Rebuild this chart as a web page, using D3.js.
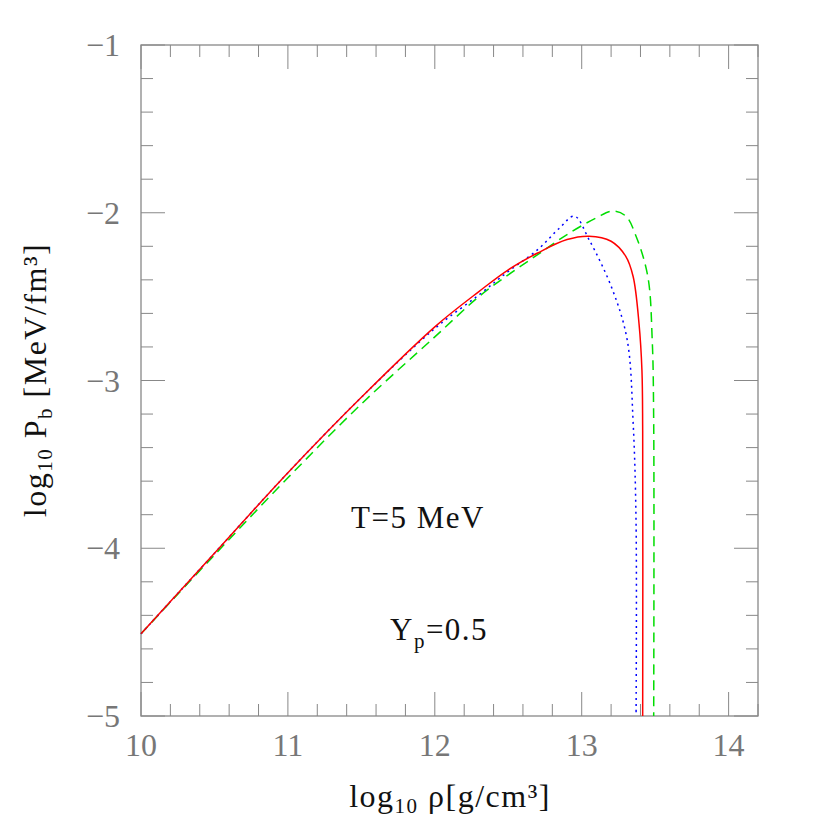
<!DOCTYPE html>
<html><head><meta charset="utf-8">
<script src="https://cdn.jsdelivr.net/npm/d3@7"></script>
<style>body{margin:0;background:#fff}</style></head>
<body><svg id="c" width="830" height="830"></svg>
<script>
const xTicks=[10,11,12,13,14];
const yTicks=[-1,-2,-3,-4,-5];
const redX=[10,10.5,11,11.5,12,12.3,12.5,12.7,12.9,13.05,13.2,13.3,13.35,13.39,13.41,13.415,13.415];
const redY=[-4.51,-4.03,-3.55,-3.1,-2.68,-2.47,-2.34,-2.24,-2.16,-2.14,-2.17,-2.26,-2.38,-2.66,-2.94,-3.3,-5];
const blueX=[10,10.5,11,11.5,12,12.3,12.5,12.7,12.85,12.95,13.05,13.21,13.31,13.35,13.37,13.37];
const blueY=[-4.51,-4.03,-3.55,-3.1,-2.69,-2.49,-2.35,-2.22,-2.09,-2.02,-2.16,-2.46,-2.76,-3.25,-3.85,-5];
const greenX=[10,10.5,11,11.5,12,12.3,12.5,12.7,12.9,13.1,13.21,13.3,13.37,13.45,13.48,13.49,13.49];
const greenY=[-4.51,-4.04,-3.58,-3.14,-2.74,-2.5,-2.37,-2.25,-2.13,-2.03,-1.99,-2.02,-2.14,-2.38,-2.76,-3.25,-5];
const svg=d3.select("#c");
const x=d3.scaleLinear().domain([10,14.2]).range([141,758]);
const y=d3.scaleLinear().domain([-5,-1]).range([716,45]);
const g=svg.append("g");
g.append("rect").attr("x",141).attr("y",45).attr("width",617).attr("height",671).attr("fill","none").attr("stroke","#888").attr("stroke-width",1.3);
const gray="#888";
for(let v=10;v<=14.2001;v+=0.2){const maj=Math.abs(v-Math.round(v))<1e-6;const L=maj?24:12;
 g.append("line").attr("x1",x(v)).attr("x2",x(v)).attr("y1",716).attr("y2",716-L).attr("stroke",gray);
 g.append("line").attr("x1",x(v)).attr("x2",x(v)).attr("y1",45).attr("y2",45+L).attr("stroke",gray);}
for(let v=-5;v<=-0.999;v+=0.2){const maj=Math.abs(v-Math.round(v))<1e-6;const L=maj?24:12;
 g.append("line").attr("y1",y(v)).attr("y2",y(v)).attr("x1",141).attr("x2",141+L).attr("stroke",gray);
 g.append("line").attr("y1",y(v)).attr("y2",y(v)).attr("x1",758).attr("x2",758-L).attr("stroke",gray);}
const ff="Liberation Serif, DejaVu Serif, serif";
xTicks.forEach(t=>g.append("text").attr("x",x(t)).attr("y",756).attr("text-anchor","middle").attr("font-family",ff).attr("font-size",32).attr("fill","#777").text(t));
yTicks.forEach(t=>g.append("text").attr("x",120).attr("y",y(t)+11).attr("text-anchor","end").attr("font-family",ff).attr("font-size",32).attr("fill","#777").text("\u2212"+Math.abs(t)));
const line=d3.line().x(d=>x(d[0])).y(d=>y(d[1])).curve(d3.curveCatmullRom.alpha(0.5));
function draw(X,Y,c,da){g.append("path").attr("d",line(X.map((v,i)=>[v,Y[i]]))).attr("fill","none").attr("stroke",c).attr("stroke-width",1.5).attr("stroke-dasharray",da);}
draw(greenX,greenY,"#00dd00","10,6");
draw(blueX,blueY,"#0000ff","2,4");
draw(redX,redY,"#ff0000",null);
svg.append("text").attr("x",450).attr("y",807).attr("text-anchor","middle").attr("font-family",ff).attr("font-size",32).attr("letter-spacing",1.5).attr("fill","#111")
 .html('log<tspan font-size="21" dy="6">10</tspan><tspan dy="-6"> ρ[g/cm³]</tspan>');
svg.append("text").attr("transform","translate(46,380) rotate(-90)").attr("text-anchor","middle").attr("font-family",ff).attr("font-size",32).attr("letter-spacing",1.5).attr("fill","#111")
 .html('log<tspan font-size="21" dy="6">10</tspan><tspan dy="-6"> P</tspan><tspan font-size="21" dy="6">b</tspan><tspan dy="-6"> [MeV/fm³]</tspan>');
svg.append("text").attr("x",418).attr("y",528).attr("text-anchor","middle").attr("font-family",ff).attr("font-size",31).attr("letter-spacing",1.5).attr("fill","#111").text("T=5 MeV");
svg.append("text").attr("x",390).attr("y",640).attr("font-family",ff).attr("font-size",31).attr("letter-spacing",1.5).attr("fill","#111")
 .html('Y<tspan font-size="21" dy="8">p</tspan><tspan dy="-8">=0.5</tspan>');
</script></body></html>
